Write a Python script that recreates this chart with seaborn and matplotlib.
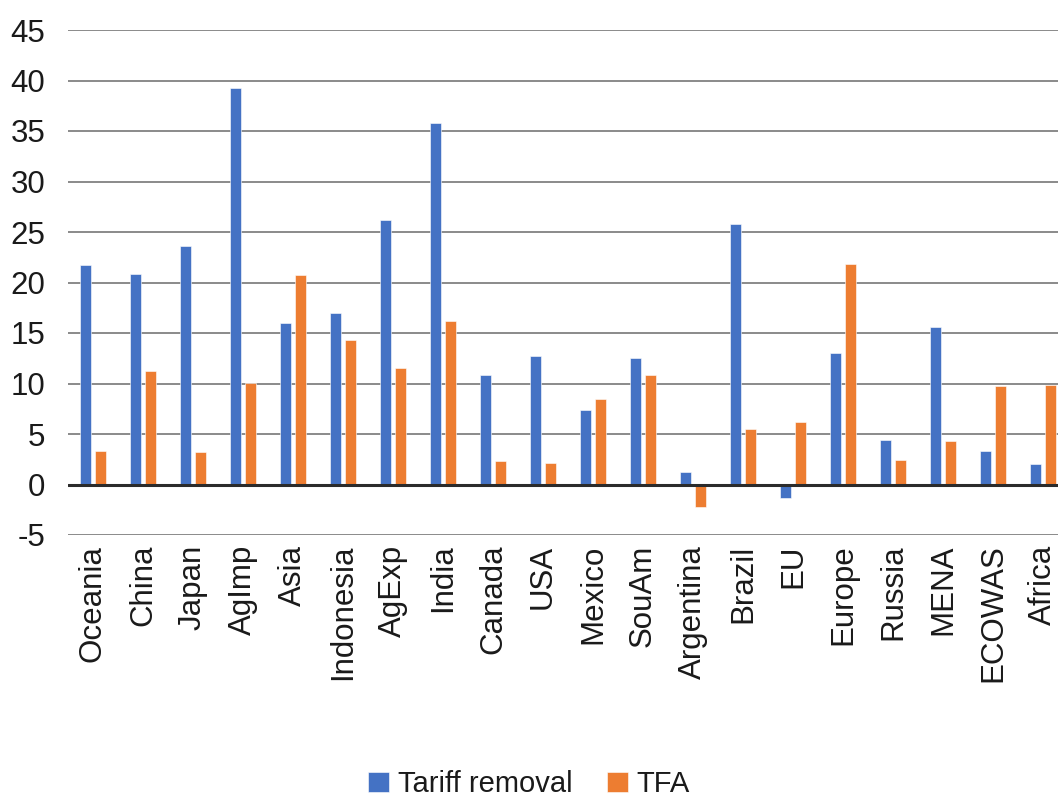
import matplotlib
matplotlib.use("Agg")
import matplotlib.pyplot as plt
import seaborn as sns
import pandas as pd

regions = ["Oceania", "China", "Japan", "AgImp", "Asia", "Indonesia", "AgExp",
           "India", "Canada", "USA", "Mexico", "SouAm", "Argentina", "Brazil",
           "EU", "Europe", "Russia", "MENA", "ECOWAS", "Africa"]
tariff_removal = [21.75, 20.85, 23.6, 39.3, 16.0, 17.0, 26.2,
                  35.8, 10.8, 12.7, 7.35, 12.55, 1.2, 25.8,
                  -1.3, 13.0, 4.45, 15.6, 3.3, 2.0]
tfa = [3.3, 11.2, 3.2, 10.05, 20.7, 14.3, 11.5,
       16.2, 2.3, 2.1, 8.5, 10.8, -2.2, 5.5,
       6.15, 21.8, 2.4, 4.3, 9.75, 9.85]
series_names = ["Tariff removal", "TFA"]
y_ticks = list(range(-5, 50, 5))

df = pd.DataFrame({
    "region": regions * 2,
    "value": tariff_removal + tfa,
    "series": [series_names[0]] * len(regions) + [series_names[1]] * len(regions),
})

sns.set_theme(style="white")
plt.rcParams["font.family"] = ["Liberation Sans", "DejaVu Sans"]

W, H = 1058, 802
fig = plt.figure(figsize=(W / 100, H / 100), dpi=100)
ax = fig.add_axes([68 / W, 267 / H, 1000 / W, 505 / H])

sns.barplot(data=df, x="region", y="value", hue="series", order=regions,
            hue_order=series_names, palette=["#4472C4", "#ED7D31"],
            width=0.576, gap=0.236, ax=ax, errorbar=None,
            edgecolor="white", linewidth=0.4, saturation=1)

ax.set_ylim(-5, 45)
ax.set_yticks(y_ticks)
ax.set_yticklabels([str(t) for t in y_ticks])
ax.set_xlim(-0.5, len(regions) - 0.5)
for t in y_ticks:
    if t != 0:
        ax.axhline(t, color="#8a8a8a", lw=1.4, zorder=0)
ax.axhline(0, color="#2b2b2b", lw=2.2, zorder=3)

for s in ax.spines.values():
    s.set_visible(False)
ax.tick_params(axis="y", length=0, pad=16.5, labelsize=22.5, labelcolor="#1a1a1a")
ax.tick_params(axis="x", length=0, pad=7, labelsize=22.5, labelcolor="#1a1a1a",
               labelrotation=90)
ax.set_xlabel("")
ax.set_ylabel("")

handles, labels = ax.get_legend_handles_labels()
ax.get_legend().remove()
fig.legend(handles, labels, loc="lower center", bbox_to_anchor=(0.5, -0.028),
           ncol=2, frameon=False, fontsize=21, handlelength=0.7,
           handleheight=0.7, handletextpad=0.3, columnspacing=1.2,
           labelcolor="#1a1a1a")

fig.savefig("out.png", dpi=100)
